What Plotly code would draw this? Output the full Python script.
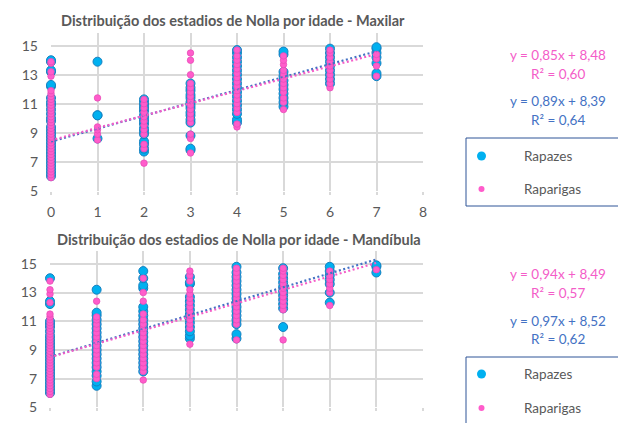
import plotly.graph_objects as go

# ---------------- data ----------------
ages = [0, 1, 2, 3, 4, 5, 6, 7]

max_boys = [
    [6.0, 6.2, 6.4, 6.6, 6.8, 7.0, 7.2, 7.4, 7.6, 7.8, 8.0, 8.2, 8.4, 8.6, 8.8, 9.0, 9.2, 9.4,
     9.8, 10.0, 10.3, 10.6, 10.9, 11.1, 11.4, 12.2, 12.3, 13.2, 13.3, 13.9, 14.0],
    [8.6, 10.2, 10.2, 13.9],
    [7.7, 7.9, 8.2, 8.4, 8.9, 9.1, 9.3, 9.6, 9.8, 10.0, 10.2, 10.5, 10.7, 10.9, 11.1, 11.3],
    [7.8, 7.9, 8.8, 9.7, 9.9, 10.2, 10.4, 10.7, 10.9, 11.1, 11.4, 11.6, 11.9, 12.1, 12.4],
    [9.7, 9.9, 10.3, 10.6, 10.9, 11.2, 11.5, 11.8, 12.1, 12.4, 12.7, 13.0, 13.3, 13.6, 13.9, 14.2, 14.5, 14.7],
    [10.8, 11.1, 11.4, 11.7, 12.0, 12.3, 12.6, 12.9, 13.2, 14.4, 14.6],
    [12.4, 12.7, 13.0, 13.3, 13.6, 13.9, 14.2, 14.5, 14.8],
    [12.9, 13.1, 13.8, 14.2, 14.5, 14.8, 14.9],
]
max_girls = [
    [5.9, 6.1, 6.3, 6.5, 6.7, 6.9, 7.1, 7.3, 7.5, 7.7, 7.9, 8.1, 8.3, 8.5, 8.7, 8.9, 9.1, 9.3, 9.5, 9.7,
     9.9, 10.1, 10.3, 10.5, 10.7, 10.9, 11.1, 11.3, 11.5, 11.7, 11.9, 12.9, 13.2, 13.8, 13.9],
    [8.5, 8.9, 9.2, 9.4, 11.4],
    [6.9, 7.9, 8.2, 8.9, 9.2, 9.5, 9.8, 10.1, 10.4, 10.7, 11.0, 11.3],
    [7.6, 8.6, 8.9, 9.7, 10.0, 10.3, 10.6, 10.9, 11.2, 11.5, 11.8, 12.1, 12.4, 13.0, 14.0, 14.5],
    [9.4, 9.6, 10.4, 10.7, 11.0, 11.3, 11.6, 11.9, 12.2, 12.5, 12.8, 13.1, 13.4, 13.7, 14.0, 14.3, 14.7],
    [10.6, 11.1, 11.4, 11.8, 12.1, 12.4, 12.7, 13.0, 13.3, 13.7, 14.0, 14.3],
    [12.1, 12.4, 12.7, 13.0, 13.3, 13.6, 13.9, 14.2, 14.5, 14.7],
    [12.9, 13.6, 14.1, 14.4],
]
man_boys = [
    [6.0, 6.2, 6.4, 6.6, 6.8, 7.0, 7.2, 7.4, 7.6, 7.8, 8.0, 8.2, 8.4, 8.6, 8.8, 9.0, 9.2, 9.4, 9.6,
     9.8, 10.0, 10.3, 10.6, 10.8, 11.0, 12.2, 12.4, 14.0],
    [6.5, 6.8, 7.2, 7.5, 7.8, 8.1, 8.4, 8.7, 9.0, 9.3, 9.6, 9.9, 10.2, 10.5, 10.8, 11.1, 11.4, 11.6, 13.2],
    [7.5, 7.8, 8.1, 8.4, 8.7, 9.0, 9.3, 9.6, 9.9, 10.2, 10.5, 10.8, 11.1, 11.4, 11.7, 12.0,
     13.3, 13.5, 14.0, 14.5],
    [9.8, 10.0, 10.3, 10.6, 10.9, 11.2, 11.5, 11.8, 12.1, 12.4, 12.7, 13.6, 13.7, 14.1],
    [9.8, 10.1, 10.8, 11.1, 11.4, 11.7, 12.0, 12.3, 12.6, 12.9, 13.2, 13.5, 13.8, 14.1, 14.4, 14.8],
    [10.6, 11.9, 12.2, 12.5, 12.8, 13.1, 13.4, 13.7, 14.0, 14.3, 14.7],
    [12.3, 13.0, 13.6, 13.9, 14.2, 14.5, 14.8],
    [14.4, 14.8, 14.9],
]
man_girls = [
    [5.9, 6.1, 6.3, 6.5, 6.7, 6.9, 7.1, 7.3, 7.5, 7.7, 7.9, 8.1, 8.3, 8.5, 8.7, 8.9, 9.1, 9.3, 9.5, 9.7,
     9.9, 10.1, 10.3, 10.5, 10.7, 10.9, 11.1, 11.3, 11.5, 12.3, 12.9, 13.2, 13.8],
    [7.0, 7.3, 7.8, 8.1, 8.4, 8.7, 9.0, 9.3, 9.6, 9.9, 10.2, 10.5, 10.8, 11.1, 11.3, 12.4],
    [6.9, 7.5, 7.8, 8.1, 8.4, 8.7, 9.0, 9.3, 9.6, 9.9, 10.2, 10.5, 10.8, 11.1, 11.5, 12.4, 13.0, 14.0],
    [9.4, 10.5, 10.8, 11.1, 11.4, 11.7, 12.0, 12.3, 12.6, 12.9, 13.2, 13.8, 14.2, 14.5],
    [9.7, 10.8, 11.1, 11.4, 11.7, 12.0, 12.3, 12.6, 12.9, 13.2, 13.5, 13.8, 14.1, 14.4, 14.7],
    [9.7, 11.8, 12.1, 12.4, 12.7, 13.0, 13.3, 13.6, 13.9, 14.2, 14.5, 14.7],
    [12.1, 13.0, 13.3, 13.6, 13.9, 14.2, 14.5],
    [14.6],
]

# trendline coefficients (slope, intercept) and labels shown on the chart
max_girls_fit = (0.85, 8.48)
max_boys_fit = (0.89, 8.39)
man_girls_fit = (0.94, 8.49)
man_boys_fit = (0.97, 8.52)
max_girls_r2 = "0,60"
max_boys_r2 = "0,64"
man_girls_r2 = "0,57"
man_boys_r2 = "0,62"

titles = ["Distribuição dos estadios de Nolla por idade - Maxilar",
          "Distribuição dos estadios de Nolla por idade - Mandíbula"]
series_names = ["Rapazes", "Raparigas"]
x_ticks = [0, 1, 2, 3, 4, 5, 6, 7, 8]
y_ticks = [5, 7, 9, 11, 13, 15]

# ---------------- styling ----------------
W, H = 618, 423
FONT = "Lato"
GREY = "#595959"
BLUE_FILL = "#00B0F0"
BLUE_EDGE = "#1680C0"
PINK_FILL = "#FF5CCB"
PINK_EDGE = "#E84DB8"
BLUE_LINE = "#4472C4"
PINK_LINE = "#F45CC8"
BOX = "#2F5597"


def flat(groups):
    xs, ys = [], []
    for a, vals in zip(ages, groups):
        for v in vals:
            xs.append(a)
            ys.append(v)
    return xs, ys


def px_x(p):
    return p / W


def px_y(p):
    return 1 - p / H


fig = go.Figure()

panels = [
    dict(xa="x", ya="y", boys=max_boys, girls=max_girls, bfit=max_boys_fit, gfit=max_girls_fit,
         br2=max_boys_r2, gr2=max_girls_r2, top=32.7, bot=190.7, x0=51, x1=423, xlabels=True),
    dict(xa="x2", ya="y2", boys=man_boys, girls=man_girls, bfit=man_boys_fit, gfit=man_girls_fit,
         br2=man_boys_r2, gr2=man_girls_r2, top=251, bot=407.3, x0=50, x1=423, xlabels=False),
]

for p in panels:
    bx, by = flat(p["boys"])
    gx, gy = flat(p["girls"])
    fig.add_trace(go.Scatter(x=bx, y=by, mode="markers", name=series_names[0], showlegend=False,
                             xaxis=p["xa"], yaxis=p["ya"], cliponaxis=False,
                             marker=dict(size=9, color=BLUE_FILL, line=dict(color=BLUE_EDGE, width=1))))
    fig.add_trace(go.Scatter(x=gx, y=gy, mode="markers", name=series_names[1], showlegend=False,
                             xaxis=p["xa"], yaxis=p["ya"], cliponaxis=False,
                             marker=dict(size=6.5, color=PINK_FILL, line=dict(color=PINK_EDGE, width=0.8))))
    for (m, b), col in ((p["bfit"], BLUE_LINE), (p["gfit"], PINK_LINE)):
        lx = [ages[0], ages[-1]]
        ly = [m * lx[0] + b, m * lx[1] + b]
        fig.add_trace(go.Scatter(x=lx, y=ly, mode="lines", showlegend=False, hoverinfo="skip",
                                 xaxis=p["xa"], yaxis=p["ya"], cliponaxis=False,
                                 line=dict(color=col, width=2.2, dash="2px,2.5px")))

axis_common = dict(showgrid=True, gridcolor="#D9D9D9", gridwidth=1.6, zeroline=False,
                   showline=False, tickfont=dict(family=FONT, size=14, color=GREY),
                   fixedrange=True, automargin=False)

layout = dict(
    width=W, height=H, autosize=False,
    margin=dict(l=0, r=0, t=0, b=0, autoexpand=False),
    paper_bgcolor="white", plot_bgcolor="white",
    showlegend=False,
    font=dict(family=FONT, color=GREY),
)
for i, p in enumerate(panels):
    sfx = "" if i == 0 else "2"
    layout["xaxis" + sfx] = dict(axis_common, domain=[px_x(p["x0"]), px_x(p["x1"])], range=[0, 8],
                                 tickvals=x_ticks, ticks="outside", ticklen=3, tickcolor="#D9D9D9",
                                 tickwidth=1.6, anchor="y" + sfx, showticklabels=p["xlabels"],
                                 ticklabelstandoff=5)
    layout["yaxis" + sfx] = dict(axis_common, domain=[px_y(p["bot"]), px_y(p["top"])], range=[5, 15.9],
                                 tickvals=y_ticks, anchor="x" + sfx, ticklabelstandoff=12)
fig.update_layout(**layout)

annotations = []
shapes = []
title_pos = [(233, 20.5), (238.5, 239)]
eq_y = [(55, 74, 101, 120), (274, 293, 321, 339)]
legend_y = [(138, 206, 156, 189), (357, 440, 374, 408)]

for i, p in enumerate(panels):
    tx, ty = title_pos[i]
    annotations.append(dict(text="<b>" + titles[i] + "</b>", x=px_x(tx), y=px_y(ty), xref="paper",
                            yref="paper", showarrow=False, xanchor="center", yanchor="middle",
                            font=dict(family=FONT, size=14.5, color=GREY)))
    y1, y2, y3, y4 = eq_y[i]
    gm, gb = p["gfit"]
    bm, bb = p["bfit"]
    fmt = lambda v: f"{v:.2f}".replace(".", ",")
    for txt, yy, col in ((f"y = {fmt(gm)}x + {fmt(gb)}", y1, PINK_LINE),
                         (f"R² = {p['gr2']}", y2, PINK_LINE),
                         (f"y = {fmt(bm)}x + {fmt(bb)}", y3, BLUE_LINE),
                         (f"R² = {p['br2']}", y4, BLUE_LINE)):
        annotations.append(dict(text=txt, x=px_x(557.5), y=px_y(yy), xref="paper", yref="paper",
                                showarrow=False, xanchor="center", yanchor="middle",
                                font=dict(family=FONT, size=13.5, color=col)))
    ltop, lbot, l1, l2 = legend_y[i]
    shapes.append(dict(type="line", xref="paper", yref="paper", x0=px_x(466), x1=px_x(640),
                       y0=px_y(ltop), y1=px_y(ltop), line=dict(color=BOX, width=1)))
    shapes.append(dict(type="line", xref="paper", yref="paper", x0=px_x(466), x1=px_x(466),
                       y0=px_y(ltop), y1=px_y(lbot), line=dict(color=BOX, width=1)))
    shapes.append(dict(type="line", xref="paper", yref="paper", x0=px_x(466), x1=px_x(640),
                       y0=px_y(lbot), y1=px_y(lbot), line=dict(color=BOX, width=1)))
    for name, yy, r, fc in ((series_names[0], l1, 4.5, BLUE_FILL), (series_names[1], l2, 3, PINK_FILL)):
        cx = 481.5
        shapes.append(dict(type="circle", xref="paper", yref="paper",
                           x0=px_x(cx - r), x1=px_x(cx + r), y0=px_y(yy + r), y1=px_y(yy - r),
                           fillcolor=fc, line=dict(color=fc, width=0)))
        annotations.append(dict(text=name, x=px_x(522), y=px_y(yy), xref="paper", yref="paper",
                                showarrow=False, xanchor="left", yanchor="middle",
                                font=dict(family=FONT, size=13.5, color=GREY)))

fig.update_layout(annotations=annotations, shapes=shapes)
fig.write_html("out.html", config={"displayModeBar": False},
               post_script="document.body.style.margin='0';document.body.style.overflow='hidden';")
